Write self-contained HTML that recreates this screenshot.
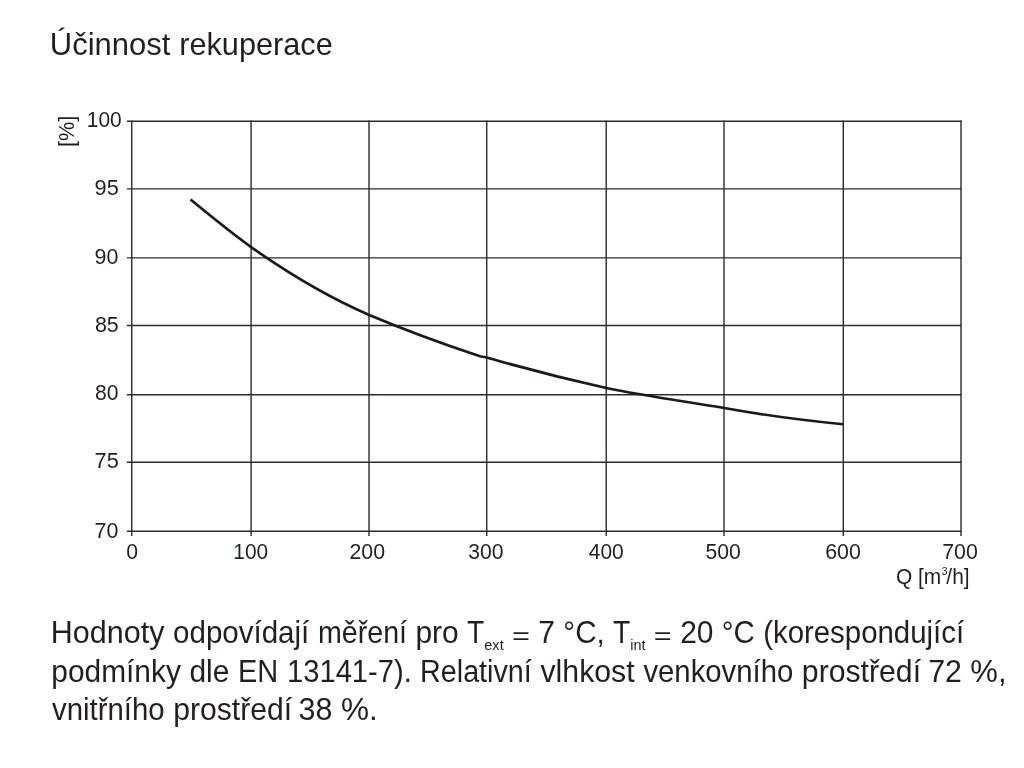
<!DOCTYPE html>
<html lang="cs">
<head>
<meta charset="utf-8">
<title>Účinnost rekuperace</title>
<style>
html,body{margin:0;padding:0;background:#fff;}
body{width:1024px;height:768px;overflow:hidden;position:relative;}
svg{position:absolute;left:0;top:0;display:block;}
text{font-family:"Liberation Sans",Arial,Helvetica,sans-serif;fill:#231f20;}
.g line{stroke:#2e2a2b;stroke-width:1.4;}
</style>
</head>
<body>
<svg width="1024" height="768" viewBox="0 0 1024 768">
<rect width="1024" height="768" fill="#fff"/>
<text font-size="31" transform="translate(49.76 54.50) scale(1.0004 1)">Účinnost</text>
<text font-size="31" transform="translate(179.26 54.50) scale(0.9897 1)">rekuperace</text>

<g class="g">
<line x1="126.9" y1="121.25" x2="961.75" y2="121.25"/>
<line x1="126.9" y1="188.85" x2="961.75" y2="188.85"/>
<line x1="126.9" y1="257.9" x2="961.75" y2="257.9"/>
<line x1="126.9" y1="325.56" x2="961.75" y2="325.56"/>
<line x1="126.9" y1="394.7" x2="961.75" y2="394.7"/>
<line x1="126.9" y1="462.25" x2="961.75" y2="462.25"/>
<line x1="126.9" y1="531.25" x2="961.75" y2="531.25"/>
<line x1="131.75" y1="120.50" x2="131.75" y2="536.1"/>
<line x1="251.1" y1="120.50" x2="251.1" y2="536.1"/>
<line x1="369.0" y1="120.50" x2="369.0" y2="536.1"/>
<line x1="486.75" y1="120.50" x2="486.75" y2="536.1"/>
<line x1="606.2" y1="120.50" x2="606.2" y2="536.1"/>
<line x1="724.0" y1="120.50" x2="724.0" y2="536.1"/>
<line x1="843.3" y1="120.50" x2="843.3" y2="536.1"/>
<line x1="961.0" y1="120.50" x2="961.0" y2="536.1"/>
</g>
<g class="ax" font-size="21.3">
<text transform="translate(86.79 127.05) scale(0.9844 1)">100</text>
<text transform="translate(94.58 194.95) scale(1.0215 1)">95</text>
<text transform="translate(94.60 264.15) scale(1.0062 1)">90</text>
<text transform="translate(94.93 331.75) scale(1.0062 1)">85</text>
<text transform="translate(94.94 399.85) scale(0.9913 1)">80</text>
<text transform="translate(94.58 467.75) scale(1.0215 1)">75</text>
<text transform="translate(94.60 537.60) scale(1.0062 1)">70</text>
<text transform="translate(126.24 558.95) scale(0.9953 1)">0</text>
<text transform="translate(233.29 558.95) scale(0.9829 1)">100</text>
<text transform="translate(349.45 558.95) scale(1.0027 1)">200</text>
<text transform="translate(468.19 558.95) scale(0.9930 1)">300</text>
<text transform="translate(588.82 558.95) scale(0.9834 1)">400</text>
<text transform="translate(705.39 558.95) scale(0.9930 1)">500</text>
<text transform="translate(825.25 558.95) scale(1.0027 1)">600</text>
<text transform="translate(942.25 558.95) scale(1.0027 1)">700</text>
<text transform="translate(73.6 146.96) rotate(-90) scale(1.0183 1)">[%]</text>
<text transform="translate(895.92 583.9) scale(0.9820 1)">Q [m<tspan font-size="10.5" dy="-8.5" dx="0.6">3</tspan><tspan dy="8.5" dx="-1.2">/h]</tspan></text>
</g>

<path d="M190.5 199.5 C210 215.5 230 232 251.1 247.1 C290 274.5 330 298 369.25 315 C400 328 440 343 480 356.25 L486.75 357.5 C530 370 570 380 606.25 388 C650 397 690 402 724.25 408 C760 414.5 800 420 843 424.25" fill="none" stroke="#1d191a" stroke-width="2.7" stroke-linecap="butt"/>


<text font-size="31" transform="translate(50.83 643.30) scale(0.9842 1)">Hodnoty</text>
<text font-size="31" transform="translate(173.03 643.30) scale(0.9532 1)">odpovídají</text>
<text font-size="31" transform="translate(318.06 643.30) scale(0.9224 1)">měření</text>
<text font-size="31" transform="translate(415.46 643.30) scale(0.9663 1)">pro</text>
<text font-size="31" transform="translate(467.09 643.30) scale(0.9082 1)">T</text>
<text font-size="15.5" transform="translate(484.29 650.05) scale(0.9390 1)">ext</text>
<text font-size="31" transform="translate(512.03 643.70) scale(0.9930 0.78)">=</text>
<text font-size="31" transform="translate(538.34 643.30) scale(0.9663 1)">7</text>
<text font-size="31" transform="translate(563.33 643.30) scale(0.9542 1)">°C,</text>
<text font-size="31" transform="translate(613.06 643.30) scale(0.9082 1)">T</text>
<text font-size="15.5" transform="translate(630.26 650.05) scale(0.9316 1)">int</text>
<text font-size="31" transform="translate(653.84 643.70) scale(0.9930 0.78)">=</text>
<text font-size="31" transform="translate(680.15 643.30) scale(0.9656 1)">20</text>
<text font-size="31" transform="translate(721.77 643.30) scale(0.9503 1)">°C</text>
<text font-size="31" transform="translate(763.15 643.30) scale(0.9486 1)">(korespondující</text>
<text font-size="31" transform="translate(51.31 681.60) scale(0.9641 1)">podmínky</text>
<text font-size="31" transform="translate(189.45 681.60) scale(0.9658 1)">dle</text>
<text font-size="31" transform="translate(237.98 681.60) scale(0.9343 1)">EN</text>
<text font-size="31" transform="translate(286.96 681.60) scale(0.9417 1)">13141-7).</text>
<text font-size="31" transform="translate(420.08 681.60) scale(0.9258 1)">Relativní</text>
<text font-size="31" transform="translate(540.47 681.60) scale(0.9763 1)">vlhkost</text>
<text font-size="31" transform="translate(643.40 681.60) scale(0.9452 1)">venkovního</text>
<text font-size="31" transform="translate(801.86 681.60) scale(0.9746 1)">prostředí</text>
<text font-size="31" transform="translate(928.15 681.60) scale(0.9787 1)">72</text>
<text font-size="31" transform="translate(970.33 681.60) scale(1.0016 1)">%,</text>
<text font-size="31" transform="translate(52.00 720.00) scale(0.9478 1)">vnitřního</text>
<text font-size="31" transform="translate(173.36 720.00) scale(0.9705 1)">prostředí</text>
<text font-size="31" transform="translate(298.53 720.00) scale(0.9855 1)">38</text>
<text font-size="31" transform="translate(341.01 720.00) scale(1.0170 1)">%.</text>
</svg>
</body>
</html>
